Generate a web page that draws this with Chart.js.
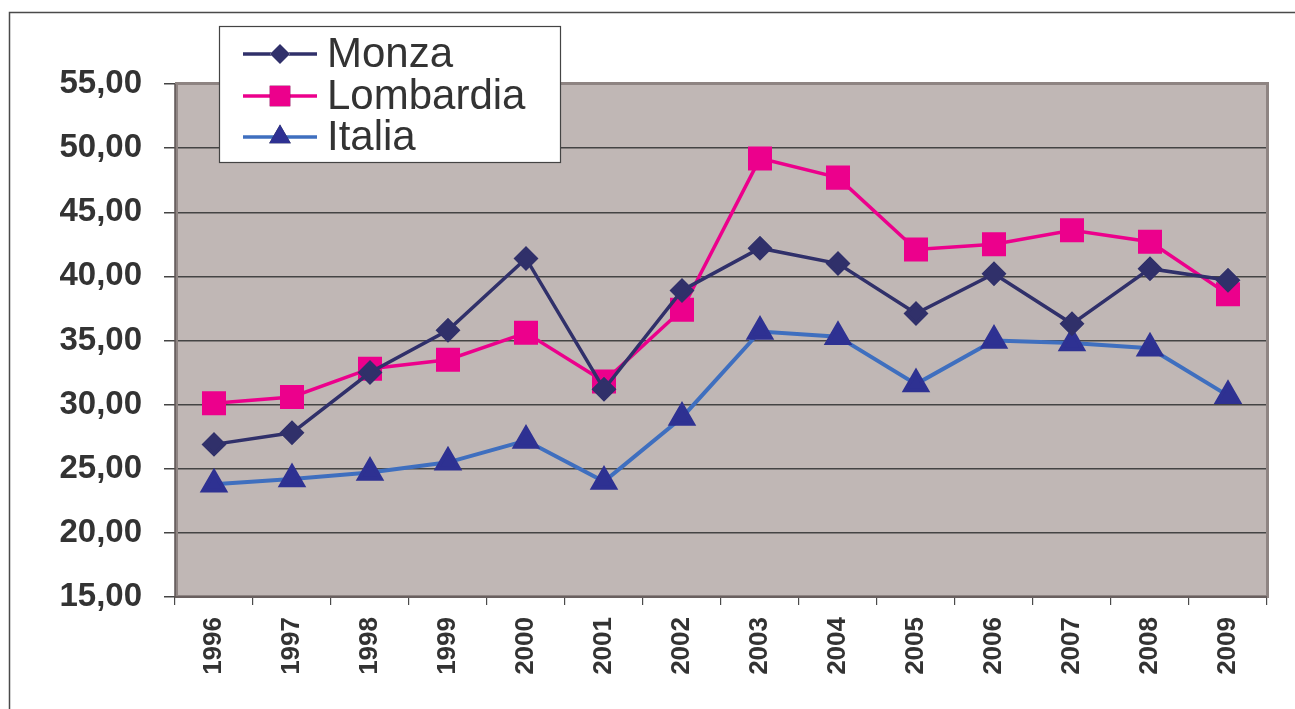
<!DOCTYPE html>
<html>
<head>
<meta charset="utf-8">
<script src="https://cdn.jsdelivr.net/npm/chart.js@4"></script>
<style>
    html, body { margin: 0; padding: 0; background: #fff; }
    #wrap { width: 1295px; height: 709px; }
</style>
</head>
<body>
<div id="wrap"><canvas id="chart"></canvas></div>
<script>
const years = ['1996', '1997', '1998', '1999', '2000', '2001', '2002', '2003', '2004', '2005', '2006', '2007', '2008', '2009'];
const monza = [26.9, 27.8, 32.5, 35.8, 41.4, 31.2, 38.9, 42.2, 41.0, 37.1, 40.2, 36.3, 40.6, 39.7];
const lombardia = [30.1, 30.6, 32.8, 33.5, 35.6, 31.8, 37.4, 49.2, 47.7, 42.1, 42.5, 43.6, 42.7, 38.6];
const italia = [23.8, 24.2, 24.7, 25.5, 27.2, 24.0, 29.0, 35.7, 35.3, 31.6, 35.0, 34.8, 34.4, 30.7];
const yMin = 15, yMax = 55, yStep = 5;

const textColor = '#333333';

// plot background, frame and legend
const decor = {
    id: 'decor',
    beforeDraw(chart) {
        const { ctx, chartArea: a } = chart;
        ctx.save();
        ctx.fillStyle = '#C0B7B5';
        ctx.fillRect(a.left, a.top, a.right - a.left, a.bottom - a.top);
        ctx.strokeStyle = '#4a4a4a';
        ctx.lineWidth = 1.5;
        ctx.beginPath();
        ctx.moveTo(9.5, 709);
        ctx.lineTo(9.5, 12.5);
        ctx.lineTo(1295, 12.5);
        ctx.stroke();
        ctx.restore();
    },
    beforeDatasetsDraw(chart) {
        const { ctx, chartArea: a } = chart;
        ctx.save();
        ctx.strokeStyle = '#8E8482';
        ctx.lineWidth = 3;
        ctx.strokeRect(a.left + 1.5, a.top - 0.5, a.right - a.left - 1, a.bottom - a.top);
        ctx.strokeStyle = '#5e5454';
        ctx.lineWidth = 1.5;
        ctx.beginPath();
        ctx.moveTo(a.left, a.top);
        ctx.lineTo(a.left, a.bottom);
        ctx.lineTo(a.right, a.bottom);
        ctx.stroke();
        ctx.restore();
    },
    afterDraw(chart) {
        const { ctx } = chart;
        const box = { x: 219.5, y: 26.5, w: 341, h: 136 };
        ctx.save();
        ctx.fillStyle = '#fff';
        ctx.fillRect(box.x, box.y, box.w, box.h);
        ctx.strokeStyle = '#444';
        ctx.lineWidth = 1.2;
        ctx.strokeRect(box.x, box.y, box.w, box.h);
        const rows = [54, 96, 137];
        chart.data.datasets.forEach((ds, i) => {
            const y = rows[i];
            ctx.strokeStyle = ds.borderColor;
            ctx.lineWidth = 3.5;
            ctx.beginPath();
            ctx.moveTo(243, y);
            ctx.lineTo(317, y);
            ctx.stroke();
            Chart.helpers.drawPoint(ctx, {
                pointStyle: ds.pointStyle,
                radius: ds.pointRadius,
                borderWidth: 0
            }, 280, y);
            ctx.fillStyle = ds.pointBackgroundColor;
            ctx.fill();
            ctx.fillStyle = textColor;
            ctx.font = '42px "Liberation Sans", Arial, sans-serif';
            ctx.textBaseline = 'middle';
            ctx.textAlign = 'left';
            ctx.fillText(ds.label, 327, y + 1);
        });
        ctx.restore();
    }
};

new Chart(document.getElementById('chart'), {
    type: 'line',
    data: {
        labels: years,
        datasets: [
            {
                label: 'Monza',
                data: monza,
                borderColor: '#30306A',
                pointBackgroundColor: '#30306A',
                pointBorderColor: '#30306A',
                pointStyle: 'rectRot',
                pointRadius: 10,
                borderWidth: 3.5
            },
            {
                label: 'Lombardia',
                data: lombardia,
                borderColor: '#EC008C',
                pointBackgroundColor: '#EC008C',
                pointBorderColor: '#EC008C',
                pointStyle: 'rect',
                pointRadius: 14.5,
                borderWidth: 3.5
            },
            {
                label: 'Italia',
                data: italia,
                borderColor: '#3F6FBF',
                pointBackgroundColor: '#2E3192',
                pointBorderColor: '#2E3192',
                pointStyle: 'triangle',
                pointRadius: 12.5,
                borderWidth: 4
            }
        ]
    },
    options: {
        responsive: true,
        maintainAspectRatio: false,
        animation: false,
        layout: { padding: { left: 0, top: 84, right: 28, bottom: 0 } },
        plugins: {
            legend: { display: false },
            tooltip: { enabled: false }
        },
        elements: {
            line: { tension: 0 },
            point: { borderWidth: 0, hoverRadius: 10 }
        },
        scales: {
            x: {
                offset: true,
                grid: {
                    offset: true,
                    drawOnChartArea: false,
                    drawTicks: true,
                    tickLength: 8,
                    color: '#4a4a4a',
                    lineWidth: 1.2
                },
                border: { display: false },
                ticks: {
                    minRotation: 90,
                    maxRotation: 90,
                    padding: 12,
                    color: textColor,
                    font: { family: '"Liberation Sans", Arial, sans-serif', size: 26, weight: 'bold' }
                },
                afterFit(scale) { scale.height = 112; }
            },
            y: {
                min: yMin,
                max: yMax,
                grid: {
                    color: '#444444',
                    lineWidth: 1.5,
                    drawTicks: true,
                    tickLength: 11
                },
                border: { display: false },
                ticks: {
                    stepSize: yStep,
                    padding: 22,
                    color: textColor,
                    font: { family: '"Liberation Sans", Arial, sans-serif', size: 33, weight: 'bold' },
                    callback: v => v.toFixed(2).replace('.', ',')
                },
                afterFit(scale) { scale.width = 175; }
            }
        }
    },
    plugins: [decor]
});
</script>
</body>
</html>
